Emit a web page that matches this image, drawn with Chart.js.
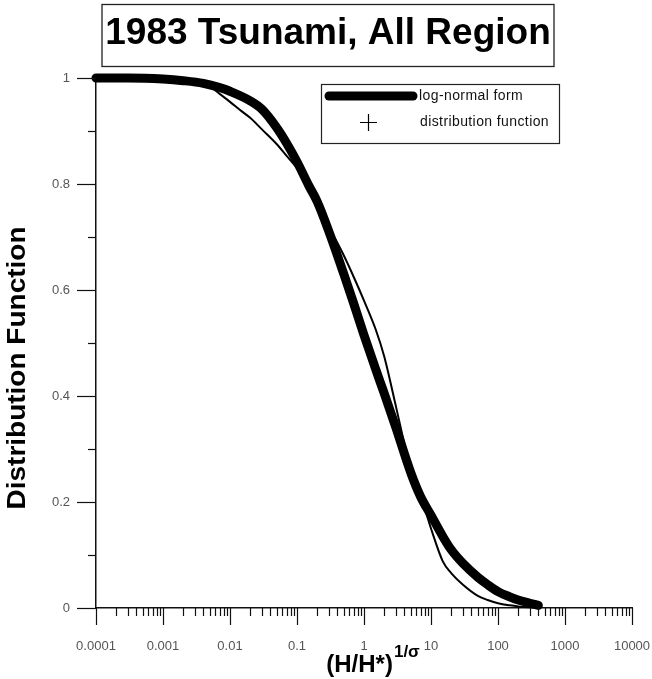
<!DOCTYPE html>
<html>
<head>
<meta charset="utf-8">
<script src="https://cdn.jsdelivr.net/npm/chart.js@4.4.0/dist/chart.umd.min.js"></script>
<style>
  html, body { margin: 0; padding: 0; background: #fff; }
  #wrap { width: 652px; height: 679px; }
</style>
</head>
<body>
<div id="wrap"><canvas id="c" width="652" height="679"></canvas></div>
<script>
// Text
const chartTitle = '1983 Tsunami, All Region';
const yAxisTitle = 'Distribution Function';
const xAxisTitleMain = '(H/H*)';
const xAxisTitleSup = '1/\u03C3';
const seriesNames = ['log-normal form', 'distribution function'];

// Axis ticks
const xTickValues = [0.0001, 0.001, 0.01, 0.1, 1, 10, 100, 1000, 10000];
const xTickLabels = ['0.0001', '0.001', '0.01', '0.1', '1', '10', '100', '1000', '10000'];
const yTickValues = [0, 0.2, 0.4, 0.6, 0.8, 1];
const yTickLabels = ['0', '0.2', '0.4', '0.6', '0.8', '1'];

// Log-normal form (thick curve)
const logNormalX = [0.0001, 0.0003, 0.001, 0.002, 0.004, 0.007, 0.01, 0.02, 0.03, 0.05, 0.07, 0.1,
  0.15, 0.2, 0.3, 0.5, 0.7, 1, 1.5, 2, 3, 5, 7, 10, 15, 20, 30, 50, 70, 100, 150, 200, 300, 400];
const logNormalY = [1.0, 1.0, 0.998, 0.995, 0.99, 0.982, 0.975, 0.957, 0.941, 0.906, 0.877, 0.842,
  0.797, 0.767, 0.71, 0.63, 0.575, 0.515, 0.45, 0.405, 0.34, 0.255, 0.21, 0.175, 0.135, 0.11,
  0.084, 0.058, 0.044, 0.031, 0.021, 0.015, 0.009, 0.005];

// Empirical distribution function (thin curve)
const distX = [0.0001, 0.0003, 0.001, 0.002, 0.003, 0.005, 0.007, 0.01, 0.015, 0.02, 0.03, 0.05,
  0.07, 0.1, 0.15, 0.2, 0.3, 0.5, 0.7, 1, 1.5, 2, 3, 4, 5, 7, 10, 15, 20, 30, 50, 70, 100, 150,
  200, 300, 400];
const distY = [1.0, 1.0, 0.998, 0.995, 0.992, 0.984, 0.97, 0.955, 0.937, 0.925, 0.903, 0.875,
  0.853, 0.83, 0.797, 0.77, 0.72, 0.665, 0.625, 0.58, 0.525, 0.475, 0.38, 0.31, 0.262, 0.212,
  0.15, 0.088, 0.066, 0.044, 0.023, 0.015, 0.009, 0.005, 0.003, 0.0015, 0.001];

const FONT = 'Arial, "Liberation Sans", Helvetica, sans-serif';
const toPoints = (xs, ys) => xs.map((x, i) => ({ x: x, y: ys[i] }));

// Frame decorations: boxed title, legend, tick marks and axis titles
const decorations = {
  id: 'decorations',
  afterDraw(chart) {
    const ctx = chart.ctx;
    const area = chart.chartArea;
    const xs = chart.scales.x;
    const ys = chart.scales.y;
    ctx.save();

    // Title in a box
    ctx.strokeStyle = '#222';
    ctx.lineWidth = 1.3;
    ctx.strokeRect(102, 4.5, 452, 62);
    ctx.fillStyle = '#000';
    ctx.font = 'bold 37px ' + FONT;
    ctx.textAlign = 'center';
    ctx.textBaseline = 'alphabetic';
    ctx.fillText(chartTitle, 328, 44);

    // Tick marks on the x axis (decades and minor 2..9)
    ctx.strokeStyle = '#111';
    ctx.lineWidth = 1.2;
    const minExp = Math.round(Math.log10(xTickValues[0]));
    const maxExp = Math.round(Math.log10(xTickValues[xTickValues.length - 1]));
    for (let e = minExp; e <= maxExp; e++) {
      for (let m = 1; m <= (e === maxExp ? 1 : 9); m++) {
        const px = Math.round(xs.getPixelForValue(m * Math.pow(10, e))) + 0.5;
        const len = m === 1 ? 17 : 8;
        ctx.beginPath();
        ctx.moveTo(px, area.bottom);
        ctx.lineTo(px, area.bottom + len);
        ctx.stroke();
      }
    }
    // Tick marks on the y axis (every 0.1, long at labelled values)
    for (let i = 0; i <= 10; i++) {
      const py = Math.round(ys.getPixelForValue(i / 10)) + 0.5;
      const len = i % 2 === 0 ? 19 : 8;
      ctx.beginPath();
      ctx.moveTo(area.left, py);
      ctx.lineTo(area.left - len, py);
      ctx.stroke();
    }

    // Legend
    const lx = 321.5, ly = 84.5;
    ctx.strokeStyle = '#222';
    ctx.lineWidth = 1.2;
    ctx.strokeRect(lx, ly, 238, 59);
    const ds = chart.data.datasets;
    ctx.strokeStyle = '#000';
    ctx.lineCap = 'round';
    ctx.lineWidth = ds[0].borderWidth;
    ctx.beginPath();
    ctx.moveTo(329, 96);
    ctx.lineTo(413, 96);
    ctx.stroke();
    ctx.lineCap = 'butt';
    ctx.lineWidth = 1.2;
    ctx.beginPath();
    ctx.moveTo(360, 122.5); ctx.lineTo(377, 122.5);
    ctx.moveTo(368.5, 114); ctx.lineTo(368.5, 131);
    ctx.stroke();
    ctx.fillStyle = '#111';
    ctx.font = '14px ' + FONT;
    ctx.textAlign = 'left';
    ctx.textBaseline = 'middle';
    ctx.letterSpacing = '0.4px';
    ctx.fillText(ds[0].label, 419, 96);
    ctx.fillText(ds[1].label, 420, 122);
    ctx.letterSpacing = '0px';

    // x axis title with superscript
    ctx.fillStyle = '#000';
    ctx.textBaseline = 'alphabetic';
    ctx.font = 'bold 24px ' + FONT;
    const wMain = ctx.measureText(xAxisTitleMain).width;
    ctx.font = 'bold 17px ' + FONT;
    const wSup = ctx.measureText(xAxisTitleSup).width;
    const cx = (area.left + area.right) / 2 + 9;
    const sx = cx - (wMain + wSup + 1) / 2;
    ctx.font = 'bold 24px ' + FONT;
    ctx.fillText(xAxisTitleMain, sx, 672);
    ctx.font = 'bold 17px ' + FONT;
    ctx.fillText(xAxisTitleSup, sx + wMain + 1, 657);

    // y axis title, rotated
    ctx.translate(18, 368);
    ctx.rotate(-Math.PI / 2);
    ctx.font = 'bold 25px ' + FONT;
    const wy = ctx.measureText(yAxisTitle).width;
    ctx.scale(283 / wy, 1);
    ctx.textAlign = 'center';
    ctx.textBaseline = 'middle';
    ctx.fillText(yAxisTitle, 0, 0);

    ctx.restore();
  }
};

new Chart(document.getElementById('c'), {
  type: 'line',
  data: {
    datasets: [
      {
        label: seriesNames[0],
        data: toPoints(logNormalX, logNormalY),
        borderColor: '#000',
        backgroundColor: '#000',
        borderWidth: 9,
        borderCapStyle: 'round',
        borderJoinStyle: 'round',
        pointRadius: 0,
        cubicInterpolationMode: 'monotone',
        clip: false
      },
      {
        label: seriesNames[1],
        data: toPoints(distX, distY),
        borderColor: '#000',
        backgroundColor: '#000',
        borderWidth: 2,
        pointRadius: 0,
        pointStyle: 'cross',
        cubicInterpolationMode: 'monotone',
        clip: false
      }
    ]
  },
  options: {
    responsive: false,
    animation: false,
    devicePixelRatio: 1,
    layout: { padding: { top: 78, right: 20, left: 0, bottom: 0 } },
    plugins: {
      legend: { display: false },
      title: { display: false },
      tooltip: { enabled: false }
    },
    scales: {
      x: {
        type: 'logarithmic',
        min: xTickValues[0],
        max: xTickValues[xTickValues.length - 1],
        afterFit(scale) { scale.height = 71; scale.paddingLeft = 0; scale.paddingRight = 0; },
        afterBuildTicks(scale) { scale.ticks = xTickValues.map(v => ({ value: v })); },
        grid: { display: false },
        border: { display: true, color: '#111', width: 1.5 },
        ticks: {
          autoSkip: false,
          maxRotation: 0,
          padding: 23,
          color: '#555',
          font: { family: FONT, size: 13 },
          callback(value, index) { return xTickLabels[index]; }
        }
      },
      y: {
        min: 0,
        max: 1,
        afterFit(scale) { scale.width = 96; scale.paddingTop = 0; scale.paddingBottom = 0; },
        afterBuildTicks(scale) { scale.ticks = yTickValues.map(v => ({ value: v })); },
        grid: { display: false },
        border: { display: true, color: '#111', width: 1.5 },
        ticks: {
          padding: 18,
          color: '#555',
          font: { family: FONT, size: 13 },
          callback(value, index) { return yTickLabels[index]; }
        }
      }
    }
  },
  plugins: [decorations]
});
</script>
</body>
</html>
